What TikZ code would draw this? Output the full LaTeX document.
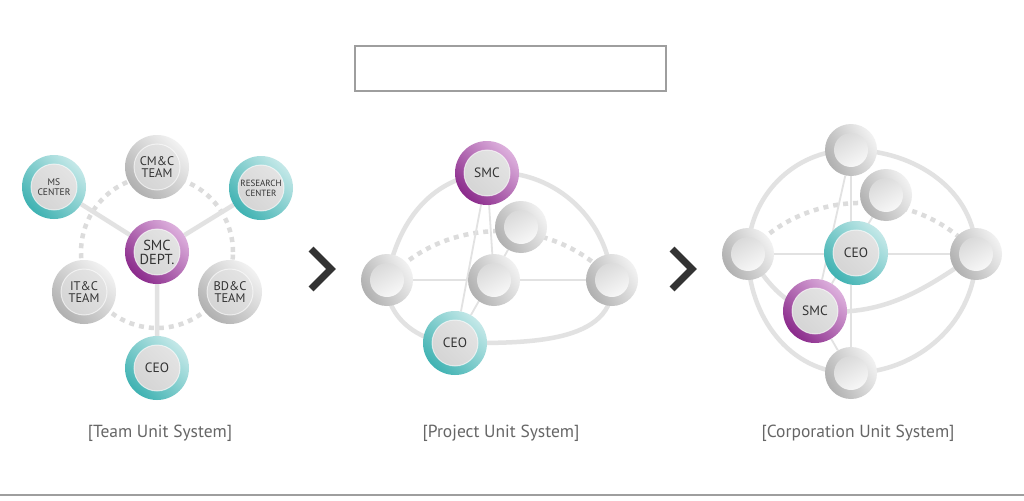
\documentclass[tikz,border=0pt]{standalone}
\usepackage{fontspec}
\setmainfont{PT Sans}
\usetikzlibrary{backgrounds}
\definecolor{tealD}{HTML}{3FB2B2}
\definecolor{tealL}{HTML}{C4E8E8}
\definecolor{purpD}{HTML}{8A2A8B}
\definecolor{purpL}{HTML}{DDB0DD}
\definecolor{grayD}{HTML}{B0B0B0}
\definecolor{grayL}{HTML}{F2F2F2}
\definecolor{coreA}{HTML}{D2D2D2}
\definecolor{coreB}{HTML}{E6E6E6}
\definecolor{linkc}{HTML}{E2E2E2}
\definecolor{dotc}{HTML}{DCDCDC}
\definecolor{txt}{HTML}{333333}
\definecolor{capc}{HTML}{666666}
\definecolor{framec}{HTML}{9E9E9E}
\definecolor{chevc}{HTML}{333333}

\begin{document}
\begin{tikzpicture}[x=1pt, y=-1pt,
  unit/.style = {circle, inner sep=0pt, minimum size=64pt, text=txt, align=center,
    font=\fontsize{13.5}{13.5}\selectfont},
  core/.style = {path picture={
    \shade[top color=coreB, bottom color=coreA, shading angle=-45]
      (path picture bounding box.center) circle (23pt);
    \draw[white, opacity=0.6, line width=1pt] (path picture bounding box.center) circle (23pt);}},
  blank/.style = {unit, minimum size=52pt, top color=grayL, bottom color=grayD, shading angle=-60,
    path picture={
    \shade[top color=coreA, bottom color=white, shading angle=30]
      (path picture bounding box.center) circle (17pt);}},
  tealnode/.style = {unit, core, top color=tealL, bottom color=tealD, shading angle=-45},
  purpnode/.style = {unit, core, top color=purpL, bottom color=purpD, shading angle=-45},
  graynode/.style = {unit, core, top color=grayL, bottom color=grayD, shading angle=-45,
    font=\fontsize{12.5}{12}\selectfont},
  link/.style = {linkc, line width=4.5pt},
  thin/.style = {linkc, line width=1.8pt},
  dots/.style = {dotc, line width=4.5pt, dash pattern=on 5pt off 5pt},
  caption/.style = {text=capc, font=\fontsize{17.5}{17.5}\selectfont},
  chevron/.style = {chevc, line width=7pt}
]
\useasboundingbox (0,0) rectangle (1024,500);

% title frame and base line
\draw[framec, line width=1.2pt] (355,46) rectangle (666,91);
\draw[framec, line width=1.2pt] (0,495) -- (1024,495);

% team unit system
\node[tealnode, font=\fontsize{9.5}{10}\selectfont] (msA) at (54,187) {MS\\CENTER};
\node[graynode] (cmcA) at (157,167) {CM\&C\\TEAM};
\node[tealnode, font=\fontsize{9}{10}\selectfont] (resA) at (261,188) {RESEARCH\\CENTER};
\node[purpnode, font=\fontsize{14.5}{14}\selectfont] (smcA) at (157,252) {SMC\\DEPT.};
\node[graynode] (itcA) at (84,292) {IT\&C\\TEAM};
\node[graynode] (bdcA) at (230,292) {BD\&C\\TEAM};
\node[tealnode] (ceoA) at (157,368) {CEO};
\node[caption] (capA) at (160,433) {[Team Unit System]};

\draw[chevron] (311,249) -- (331,269) -- (311,289);

% project unit system
\node[purpnode] (smcB) at (487,173) {SMC};
\node[blank] (backB) at (521,227) {};
\node[blank] (leftB) at (387,280) {};
\node[blank] (midB) at (494,280) {};
\node[blank] (rightB) at (612,280) {};
\node[tealnode] (ceoB) at (455,343) {CEO};
\node[caption] (capB) at (501,433) {[Project Unit System]};

\draw[chevron] (672,249) -- (692,269) -- (672,289);

% corporation unit system
\node[blank] (topC) at (851,150) {};
\node[blank] (backC) at (886,195) {};
\node[blank] (leftC) at (748,254) {};
\node[blank] (rightC) at (976,254) {};
\node[tealnode] (ceoC) at (856,253) {CEO};
\node[purpnode] (smcC) at (815,311) {SMC};
\node[blank] (botC) at (851,373) {};
\node[caption] (capC) at (858,433) {[Corporation Unit System]};

\begin{pgfonlayer}{background}
\fill[white] (0,0) rectangle (1024,500);
\draw[dots] (smcA) circle (76pt);
\draw[link] (smcA) -- (msA) (smcA) -- (resA) (smcA) -- (ceoA);

\draw[link] (leftB.center) to[out=80, in=185] (smcB.center)
            to[out=5, in=95] (rightB.center)
            to[out=-85, in=0] (ceoB.center)
            to[out=180, in=-95] (leftB.center);
\draw[dots] (leftB.center) to[out=48, in=132] (rightB.center);
\draw[thin] (leftB) -- (rightB) (smcB) -- (midB) (smcB) -- (ceoB) (backB) -- (ceoB);

\draw[link] (topC.center) to[out=0, in=90] (rightC.center)
            to[out=-90, in=0] (botC.center)
            to[out=180, in=-90] (leftC.center)
            to[out=90, in=180] (topC.center);
\draw[link] (leftC.center) to[out=-55, in=168] (smcC.center)
            to[out=-5, in=-145] (rightC.center);
\draw[dots] (leftC.center) to[out=50, in=130] (rightC.center);
\draw[thin] (topC) -- (botC) (leftC) -- (rightC) (topC) -- (smcC)
            (smcC) -- (botC) (backC) -- (smcC);
\end{pgfonlayer}
\end{tikzpicture}
\end{document}
